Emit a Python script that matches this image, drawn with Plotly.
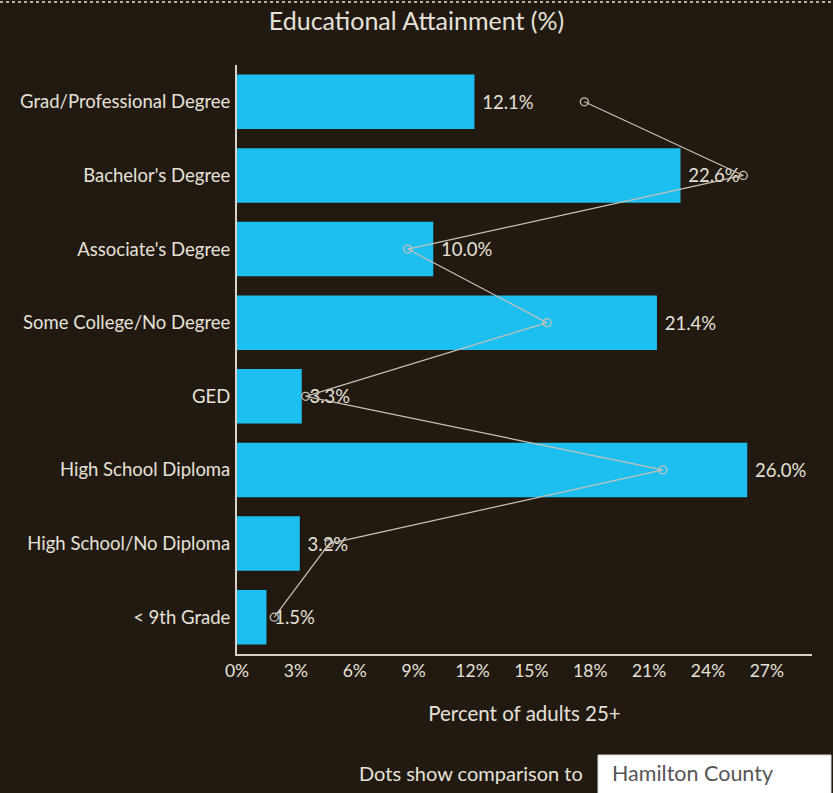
import plotly.graph_objects as go

# Educational attainment, adults 25+ (percent)
categories = [
    "Grad/Professional Degree",
    "Bachelor's Degree",
    "Associate's Degree",
    "Some College/No Degree",
    "GED",
    "High School Diploma",
    "High School/No Diploma",
    "< 9th Grade",
]
local_pct = [12.1, 22.6, 10.0, 21.4, 3.3, 26.0, 3.2, 1.5]
county_pct = [17.7, 25.8, 8.7, 15.8, 3.5, 21.7, 4.7, 1.9]
x_ticks = [0, 3, 6, 9, 12, 15, 18, 21, 24, 27]
x_tick_labels = [f"{t}%" for t in x_ticks]

BG = "#221a10"
BAR = "#1cbff0"
TEXT = "#e6e1da"
AXIS = "#d9d2ca"
FONT = "Lato"

W, H = 833, 793
L, R, T, B = 237, 21, 65, 139
plot_w = W - L - R
plot_h = H - T - B


def px_x(pixel_x):
    """Figure pixel column -> paper x coordinate."""
    return (pixel_x - L) / plot_w


def px_y(pixel_y):
    """Figure pixel row -> paper y coordinate."""
    return (H - B - pixel_y) / plot_h


fig = go.Figure()

fig.add_trace(go.Bar(
    y=categories,
    x=local_pct,
    orientation="h",
    marker=dict(color=BAR, line=dict(width=0)),
    width=0.74,
    text=[f" {v:.1f}%" for v in local_pct],
    textposition="outside",
    outsidetextfont=dict(color=TEXT, size=18.5, family=FONT),
    cliponaxis=False,
    hoverinfo="skip",
    showlegend=False,
))

fig.add_trace(go.Scatter(
    y=categories,
    x=county_pct,
    mode="lines+markers",
    line=dict(color="#c9c1b8", width=1.2),
    marker=dict(symbol="circle-open", size=8, color="#c9c1b8", line=dict(width=1.3)),
    showlegend=False,
    hoverinfo="skip",
))

fig.update_layout(
    width=W,
    height=H,
    margin=dict(l=L, r=R, t=T, b=B),
    paper_bgcolor=BG,
    plot_bgcolor=BG,
    font=dict(family=FONT, color=TEXT, size=15),
    title=dict(
        text="Educational Attainment (%)",
        x=0.5, xref="container", xanchor="center",
        y=1 - 21 / H, yref="container", yanchor="middle",
        font=dict(size=25, color=TEXT, family=FONT),
    ),
    xaxis=dict(
        range=[0, 29.3],
        tickvals=x_ticks,
        ticktext=x_tick_labels,
        showgrid=False,
        zeroline=False,
        showline=True,
        linecolor=AXIS,
        linewidth=2,
        ticks="",
        tickfont=dict(size=17.5, color=TEXT),
        title=dict(text="Percent of adults 25+", font=dict(size=20.5, color=TEXT), standoff=27),
        fixedrange=True,
    ),
    yaxis=dict(
        categoryorder="array",
        categoryarray=categories[::-1],
        range=[-0.5, len(categories) - 0.5],
        showgrid=False,
        zeroline=False,
        showline=True,
        linecolor=AXIS,
        linewidth=2,
        ticks="",
        ticklabelstandoff=1,
        tickfont=dict(size=18.5, color=TEXT),
        fixedrange=True,
    ),
    bargap=0.26,
    shapes=[
        dict(
            type="line", xref="paper", yref="paper",
            x0=px_x(0), x1=px_x(W),
            y0=px_y(2), y1=px_y(2),
            line=dict(color="#e8e2da", width=1.5, dash="dot"),
        ),
        dict(
            type="rect", xref="paper", yref="paper",
            x0=px_x(598), x1=px_x(831),
            y0=px_y(755), y1=px_y(795),
            fillcolor="#ffffff",
            line=dict(color="#d8d8d8", width=1),
        ),
    ],
    annotations=[
        dict(
            text="Dots show comparison to",
            xref="paper", yref="paper",
            x=px_x(585), y=px_y(773),
            xanchor="right", yanchor="middle",
            showarrow=False,
            font=dict(size=20, color=TEXT, family=FONT),
        ),
        dict(
            text="Hamilton County",
            xref="paper", yref="paper",
            x=px_x(610), y=px_y(773),
            xanchor="left", yanchor="middle",
            showarrow=False,
            font=dict(size=21.5, color="#555555", family=FONT),
        ),
    ],
)

fig.write_html("out.html")
